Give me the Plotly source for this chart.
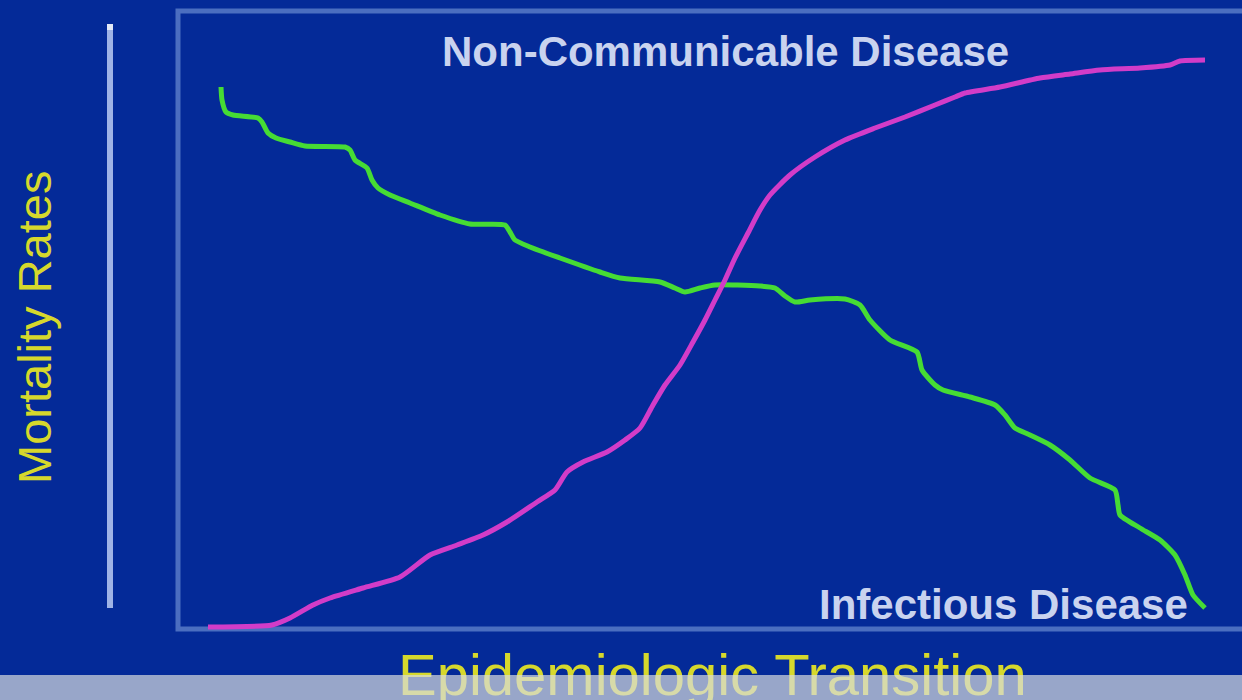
import plotly.graph_objects as go

# ---- data (arbitrary units, x = transition stage, y = mortality) ----
infectious_x = [41, 42, 46, 53, 78, 82, 88, 96, 110, 125, 165, 170, 175, 187, 192, 198, 210, 230,
                260, 290, 325, 330, 335, 350, 380, 420, 440, 480, 495, 505, 520, 535, 580, 595,
                605, 615, 630, 665, 680, 690, 710, 737, 742, 755, 763, 790, 815, 825, 835, 850,
                870, 890, 910, 935, 938, 940, 960, 980, 995, 1005, 1013, 1025]
infectious_y = [542, 529, 517, 514, 511, 507, 496, 491, 487, 483, 482, 479, 469, 461, 449, 441, 434, 426,
                414, 405, 404, 397, 389, 382, 371, 357, 351, 347, 341, 337, 341, 344, 343, 341,
                333, 327, 329, 330, 324, 309, 289, 277, 259, 244, 239, 232, 224, 214, 201, 194,
                184, 169, 151, 139, 124, 114, 101, 89, 74, 54, 34, 21]

ncd_x = [28, 92, 110, 133, 150, 183, 220, 250, 277, 303, 327, 357, 375, 387, 403, 427, 445, 460,
         473, 485, 500, 513, 525, 535, 545, 555, 568, 580, 590, 610, 635, 665, 695, 725, 755,
         775, 785, 820, 860, 890, 920, 960, 990, 1000, 1025]
ncd_y = [2, 4, 11, 24, 31, 41, 52, 74, 84, 94, 107, 127, 139, 157, 167, 177, 189, 201,
         224, 244, 264, 287, 309, 329, 349, 371, 396, 419, 434, 454, 472, 489, 501, 512, 524,
         532, 536, 542, 551, 555, 559, 561, 564, 568, 569]

labels = {
    "ncd": "Non-Communicable Disease",
    "inf": "Infectious Disease",
    "x_title": "Epidemiologic Transition",
    "y_title": "Mortality Rates",
}

BG = "#042a98"
YELLOW = "#d6d82c"
LABEL = "#c9d3ef"

fig = go.Figure()
fig.add_trace(go.Scatter(x=infectious_x, y=infectious_y, mode="lines",
                         line=dict(color="#46dc34", width=5, shape="spline", smoothing=0.6),
                         name=labels["inf"], hoverinfo="skip"))
fig.add_trace(go.Scatter(x=ncd_x, y=ncd_y, mode="lines",
                         line=dict(color="#d23cc8", width=5, shape="spline", smoothing=0.6),
                         name=labels["ncd"], hoverinfo="skip"))

W, H = 1242, 700

def px(x):
    return x / W

def py(y):
    return 1 - y / H

shapes = [
    # frame
    dict(type="rect", xref="paper", yref="paper", x0=px(178), x1=1.03, y0=py(629), y1=py(11),
         line=dict(color="#4b6ec0", width=5), layer="below"),
    # vertical arrow
    dict(type="line", xref="paper", yref="paper", x0=px(110), x1=px(110), y0=py(608), y1=py(25),
         line=dict(color="#9fb3e6", width=6), layer="above"),
    dict(type="line", xref="paper", yref="paper", x0=px(110), x1=px(110), y0=py(30), y1=py(24),
         line=dict(color="#e4e9f7", width=6), layer="above"),
]

annotations = [
    dict(text="<b>" + labels["ncd"] + "</b>", xref="paper", yref="paper", x=px(725), y=py(51.5),
         showarrow=False, font=dict(family="Liberation Sans, Arial", size=42, color=LABEL),
         xanchor="center", yanchor="middle"),
    dict(text="<b>" + labels["inf"] + "</b>", xref="paper", yref="paper", x=px(1003), y=py(604),
         showarrow=False, font=dict(family="Liberation Sans, Arial", size=42, color=LABEL),
         xanchor="center", yanchor="middle"),
    dict(text=labels["y_title"], xref="paper", yref="paper", x=px(34), y=py(328), textangle=-90,
         showarrow=False, font=dict(family="Liberation Sans, Arial", size=47, color=YELLOW),
         xanchor="center", yanchor="middle"),
    dict(text=labels["x_title"], xref="paper", yref="paper", x=px(712), y=py(674),
         showarrow=False, font=dict(family="Liberation Sans, Arial", size=58, color=YELLOW),
         xanchor="center", yanchor="middle"),
    # pale band across the bottom, drawn over the title
    dict(text=" ", xref="paper", yref="paper", x=0.5, y=0, xanchor="center", yanchor="bottom",
         width=W + 10, height=25, bgcolor="rgba(215,220,222,0.7)", borderpad=0, borderwidth=0,
         showarrow=False),
]

fig.update_layout(
    width=W, height=H, autosize=False,
    margin=dict(l=0, r=0, t=0, b=0),
    paper_bgcolor=BG, plot_bgcolor=BG,
    showlegend=False,
    xaxis=dict(range=[-180, 1062], visible=False, fixedrange=True),
    yaxis=dict(range=[-71, 629], visible=False, fixedrange=True),
    shapes=shapes,
    annotations=annotations,
)

fig.write_html("out.html", config={"displayModeBar": False},
               post_script="document.body.style.margin='0';")
